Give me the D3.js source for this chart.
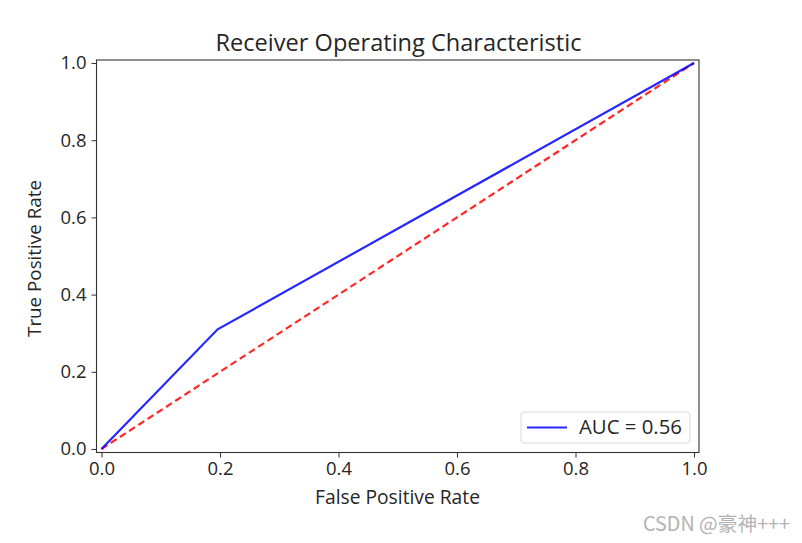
<!DOCTYPE html>
<html><head><meta charset="utf-8">
<script src="https://cdn.jsdelivr.net/npm/d3@7"></script>
<style>body{margin:0;background:#fff;} text{font-family:"Open Sans",sans-serif;}</style>
</head><body><svg id="c" width="802" height="543"></svg>
<script>
const fpr = [0, 0.196, 1];
const tpr = [0, 0.31, 1];
const diagX = [0, 1];
const diagY = [0, 1];
const ticks = [0, 0.2, 0.4, 0.6, 0.8, 1.0];
const aucLabel = "AUC = 0.56";

const svg = d3.select("#c");
const L = 96.5, R = 699, T = 60, B = 452.5;
const x = d3.scaleLinear().domain([0, 1]).range([101.5, 694]);
const y = d3.scaleLinear().domain([0, 1]).range([449, 63]);

function fit(sel, target) {
  const n = sel.node();
  const s = +sel.attr("font-size");
  const w = n.getComputedTextLength();
  if (w > 0) sel.attr("font-size", s * target / w);
  return sel;
}

const gx = svg.append("g").attr("transform", `translate(0,${B})`)
  .call(d3.axisBottom(x).tickValues(ticks).tickFormat(d3.format(".1f")).tickSize(5).tickPadding(4))
  .call(g => g.select(".domain").remove())
  .call(g => g.selectAll("text").attr("font-size", 18).attr("fill", "#262626").style("font-family", "'Open Sans',sans-serif"))
  .call(g => g.selectAll("line").attr("stroke", "#333"));
gx.selectAll("text").each(function() { fit(d3.select(this), 26); });
const gy = svg.append("g").attr("transform", `translate(${L},0)`)
  .call(d3.axisLeft(y).tickValues(ticks).tickFormat(d3.format(".1f")).tickSize(5).tickPadding(5))
  .call(g => g.select(".domain").remove())
  .call(g => g.selectAll("text").attr("font-size", 18).attr("fill", "#262626").style("font-family", "'Open Sans',sans-serif"))
  .call(g => g.selectAll("line").attr("stroke", "#333"));
gy.selectAll("text").each(function() { fit(d3.select(this), 26); });

const line = d3.line().x(d => x(d[0])).y(d => y(d[1]));
svg.append("path").datum(diagX.map((v, i) => [v, diagY[i]]))
  .attr("d", line).attr("fill", "none").attr("stroke", "red").attr("stroke-opacity", 0.85)
  .attr("stroke-width", 2.2).attr("stroke-dasharray", "7,4");
svg.append("path").datum(fpr.map((v, i) => [v, tpr[i]]))
  .attr("d", line).attr("fill", "none").attr("stroke", "blue").attr("stroke-opacity", 0.85)
  .attr("stroke-width", 2.2);

svg.append("rect").attr("x", L).attr("y", T).attr("width", R - L).attr("height", B - T)
  .attr("fill", "none").attr("stroke", "#333").attr("stroke-width", 1.1);

// legend
svg.append("rect").attr("x", 521).attr("y", 412).attr("width", 169).attr("height", 31)
  .attr("rx", 3).attr("fill", "white").attr("fill-opacity", 0.8).attr("stroke", "#d9d9d9");
svg.append("line").attr("x1", 527).attr("x2", 567).attr("y1", 427.5).attr("y2", 427.5)
  .attr("stroke", "blue").attr("stroke-opacity", 0.85).attr("stroke-width", 2.2);
fit(svg.append("text").attr("x", 579).attr("y", 434).attr("font-size", 18).attr("fill", "#262626").text(aucLabel), 103);

fit(svg.append("text").attr("x", 398.5).attr("y", 51).attr("text-anchor", "middle")
  .attr("font-size", 20).attr("fill", "#262626").text("Receiver Operating Characteristic"), 366);
fit(svg.append("text").attr("x", 397.5).attr("y", 504).attr("text-anchor", "middle")
  .attr("font-size", 18).attr("fill", "#262626").text("False Positive Rate"), 165);
fit(svg.append("text").attr("transform", `translate(41,258.5) rotate(-90)`).attr("text-anchor", "middle")
  .attr("font-size", 18).attr("fill", "#262626").text("True Positive Rate"), 157);

fit(svg.append("text").attr("x", 790).attr("y", 531).attr("text-anchor", "end")
  .attr("font-size", 15).attr("fill", "#b3b3b3").style("font-family", "'Noto Sans CJK SC','Noto Sans',sans-serif").text("CSDN @豪神+++"), 147);
</script></body></html>
